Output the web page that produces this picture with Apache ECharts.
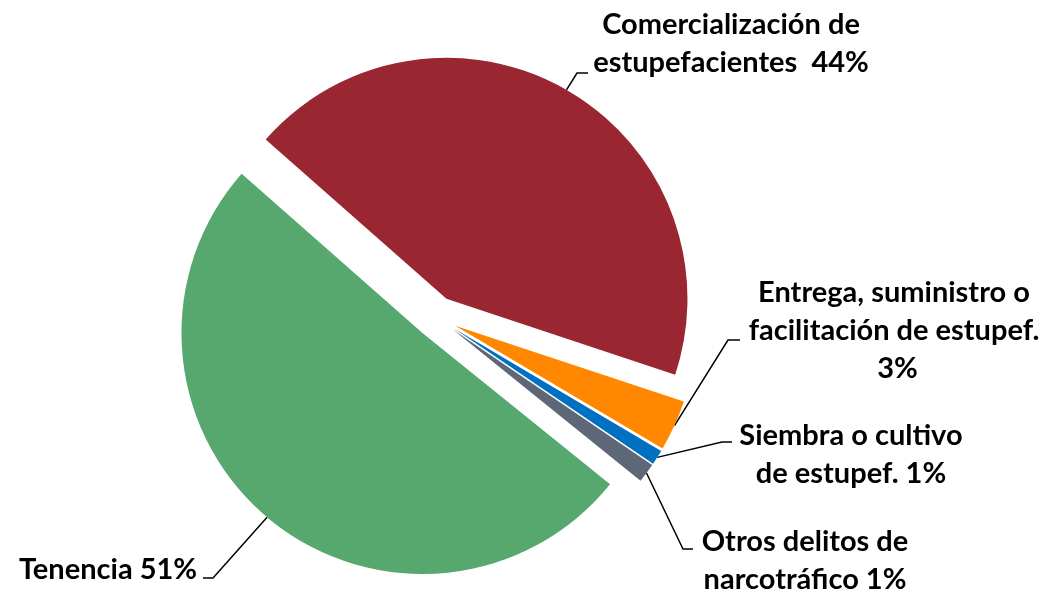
<!DOCTYPE html>
<html>
<head>
<meta charset="utf-8">
<script src="https://cdn.jsdelivr.net/npm/echarts@6/dist/echarts.min.js"></script>
<style>
  html, body { margin: 0; padding: 0; background: #fff; }
  #chart { width: 1048px; height: 592px; }
</style>
</head>
<body>
<div id="chart"></div>
<script>
// slice order follows the picture, clockwise from the upper-left cut
const categories = [
  'Comercialización de\nestupefacientes ',
  'Entrega, suministro o\nfacilitación de estupef.\n',
  'Siembra o cultivo\nde estupef.',
  'Otros delitos de\nnarcotráfico',
  'Tenencia'
]
const shares = [43.6, 3.4, 1.0, 1.3, 50.7]
const colors = ['#992630', '#ff8800', '#0070c0', '#5e6777', '#57a86e']

// label anchor (centre of text block) and leader line elbow / end
const labelSpots = [
  { x: 731, y: 44, elbow: [577, 73], end: [588, 73] },
  { x: 894, y: 331, elbow: [728, 340], end: [740, 340] },
  { x: 851, y: 455, elbow: [722, 442], end: [732, 442] },
  { x: 805, y: 561, elbow: [683, 549], end: [693, 549] },
  { x: 108, y: 570, elbow: [213, 578], end: [203, 578] }
]

const pieCenter = [436, 317]
const pieRadius = 241
const explode = 21
const startAngle = 138.6

const chart = echarts.init(document.getElementById('chart'))

const option = {
  animation: false,
  series: [
    {
      // exploded slices
      type: 'pie',
      center: pieCenter,
      radius: pieRadius,
      startAngle: startAngle,
      clockwise: true,
      selectedMode: 'multiple',
      selectedOffset: explode,
      silent: true,
      emphasis: { disabled: true },
      itemStyle: { borderWidth: 0 },
      label: { show: false },
      labelLine: { show: false },
      data: categories.map((name, i) => ({
        name: name,
        value: shares[i],
        selected: true,
        itemStyle: { color: colors[i] }
      }))
    },
    {
      // invisible copy, only for labels and leader lines
      type: 'pie',
      center: pieCenter,
      radius: pieRadius + explode,
      startAngle: startAngle,
      clockwise: true,
      percentPrecision: 0,
      silent: true,
      emphasis: { disabled: true },
      itemStyle: { color: 'rgba(0,0,0,0)', borderWidth: 0 },
      label: {
        show: true,
        position: 'outside',
        formatter: p => p.name + ' ' + p.percent + '%',
        color: '#000',
        fontFamily: 'Lato',
        fontWeight: 'bold',
        fontSize: 29,
        lineHeight: 38,
        align: 'center'
      },
      labelLine: {
        show: true,
        lineStyle: { color: '#000', width: 1.5 }
      },
      labelLayout: params => {
        const s = labelSpots[params.dataIndex]
        const start = params.labelLinePoints ? params.labelLinePoints[0] : s.elbow
        return {
          x: s.x,
          y: s.y,
          align: 'center',
          verticalAlign: 'middle',
          labelLinePoints: [start, s.elbow, s.end]
        }
      },
      data: categories.map((name, i) => ({ name: name, value: shares[i] }))
    }
  ]
}

chart.setOption(option)
</script>
</body>
</html>
